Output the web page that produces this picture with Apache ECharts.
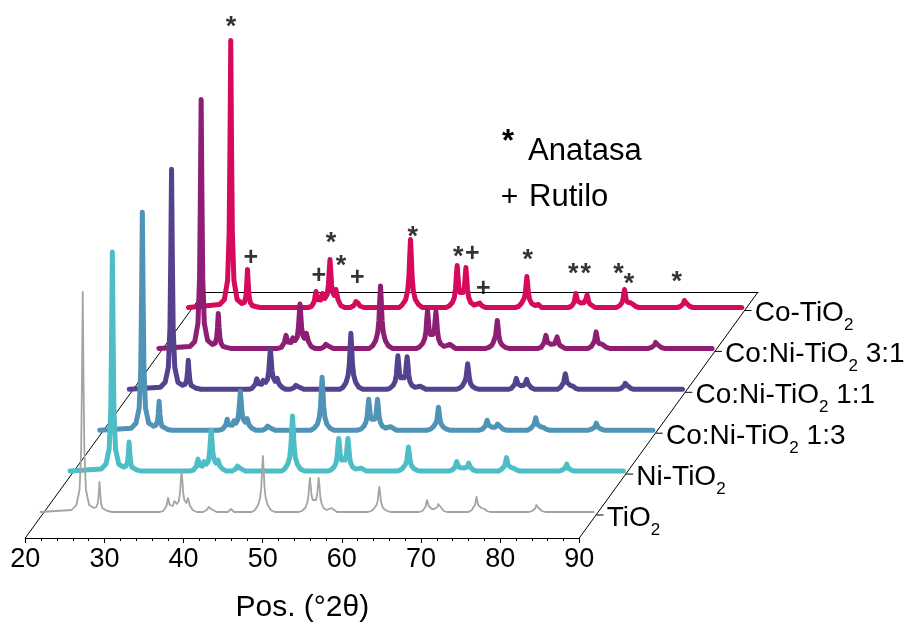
<!DOCTYPE html>
<html><head><meta charset="utf-8">
<script src="https://cdn.jsdelivr.net/npm/echarts@6/dist/echarts.min.js"></script>
<style>html,body{margin:0;padding:0;background:#fff}#c{width:909px;height:625px}</style>
</head><body><div id="c"></div>
<script>
// ---------------- data ----------------
const sampleNames = ['TiO2', 'Ni-TiO2', 'Co:Ni-TiO2 1:3', 'Co:Ni-TiO2 1:1', 'Co:Ni-TiO2 3:1', 'Co-TiO2'];
const sampleLabels = ['TiO{s|2}', 'Ni-TiO{s|2}', 'Co:Ni-TiO{s|2} 1:3', 'Co:Ni-TiO{s|2} 1:1', 'Co:Ni-TiO{s|2} 3:1', 'Co-TiO{s|2}'];
const xMin = 20, xMax = 90, xStep = 10;
const axisTitle = 'Pos. (°2θ)';

const tio2 = [[20,0],[23.9,2],[24.5,7],[24.9,22],[25.1,62],[25.2,132],[25.3,220],[25.4,132],[25.5,62],[25.7,22],[26.1,7],[26.7,4],
[27.0,5],[27.2,9],[27.3,18],[27.4,30],[27.5,18],[27.6,9],[27.75,4],[28.0,2],[28.4,1],[29.0,0],
[35.0,0],[35.4,1],[35.65,3],[35.8,6],[35.9,10],[36.0,14],[36.1,11],[36.2,7],[36.4,5],[36.6,6],[36.7,8],[36.8,11],[36.9,9],[37.1,8],[37.35,11],[37.5,19],[37.6,31],[37.7,41],[37.8,31],[37.9,19],[38.05,12],[38.3,9],[38.4,11],[38.5,14],[38.6,11],[38.75,6],[39.1,2],[39.6,0],
[40.4,0],[40.85,2],[41.0,3],[41.1,5],[41.2,7],[41.3,5],[41.4,3],[41.6,1],[42.1,0],[43.5,0],[43.9,3],[44.3,0],
[46.5,0],[46.9,2],[47.3,7],[47.55,14],[47.7,25],[47.8,42],[47.9,56],[48.0,42],[48.1,25],[48.25,14],[48.5,7],[48.9,2],[49.4,0],
[52.4,0],[52.8,1],[53.2,4],[53.45,9],[53.6,15],[53.7,26],[53.8,34],[53.9,26],[54.0,17],[54.15,12],[54.35,11],[54.55,12],[54.7,17],[54.8,26],[54.9,34],[55.0,26],[55.1,15],[55.25,9],[55.5,4],[55.9,2],[56.2,3],[56.3,4],[56.4,5],[56.5,4],[56.7,2],[57.2,0],
[61.1,0],[61.5,1],[61.8,3],[62.0,5],[62.15,7],[62.3,11],[62.4,19],[62.5,25],[62.6,19],[62.7,11],[62.85,6],[63.1,3],[63.5,1],[63.9,0],
[67.5,0],[67.9,1],[68.15,3],[68.3,5],[68.4,9],[68.5,12],[68.6,9],[68.7,6],[68.85,4],[69.1,3],[69.4,3],[69.65,3],[69.8,5],[69.9,8],[70.0,10],[70.1,8],[70.2,5],[70.35,3],[70.6,1],[71.0,0],
[73.7,0],[74.1,2],[74.35,4],[74.5,7],[74.6,11],[74.7,15],[74.8,11],[74.9,7],[75.05,5],[75.3,4],[75.5,4],[75.7,3],[76.0,1],[76.4,0],
[81.3,0],[81.7,1],[81.95,2],[82.1,4],[82.2,7],[82.3,9],[82.4,7],[82.5,4],[82.65,2],[82.9,1],[83.3,0],[89.4,0]];

const niTio2 = [[20,0],[23.9,2],[24.5,7],[24.9,22],[25.1,61],[25.2,131],[25.3,219],[25.4,131],[25.5,61],[25.7,22],[26.1,7],[26.7,4],
[27.0,5],[27.2,9],[27.3,17],[27.4,29],[27.5,17],[27.6,9],[27.75,4],[28.0,2],[28.4,1],[29.0,0],
[35.0,0],[35.45,1],[35.7,3],[35.85,5],[35.95,9],[36.05,12],[36.15,9],[36.25,6],[36.45,4],[36.6,5],[36.7,7],[36.8,9.5],[36.9,8],[37.1,7],[37.35,10],[37.5,19],[37.6,31],[37.7,41],[37.8,31],[37.9,19],[38.05,12],[38.3,8],[38.45,9],[38.55,11],[38.65,9],[38.8,5],[39.15,2],[39.6,0],
[40.3,0],[40.75,2],[40.9,3],[41.0,5],[41.1,6.5],[41.2,5],[41.3,3],[41.5,1],[42.0,0],
[46.5,0],[46.9,2],[47.3,7],[47.55,14],[47.7,25],[47.8,41],[47.9,55],[48.0,41],[48.1,25],[48.25,14],[48.5,7],[48.9,2],[49.4,0],
[52.3,0],[52.7,1],[53.1,4],[53.35,8],[53.5,15],[53.6,25],[53.7,32.5],[53.8,25],[53.9,16],[54.05,11],[54.27,10],[54.5,11],[54.65,16],[54.75,25],[54.85,32.5],[54.95,25],[55.05,15],[55.2,8],[55.45,4],[55.85,2],[56.2,2.5],[56.3,3],[56.4,3.5],[56.5,3],[56.7,1.5],[57.2,0],
[61.0,0],[61.4,1],[61.75,3],[61.95,5],[62.1,7],[62.25,11],[62.35,18],[62.45,24],[62.55,18],[62.65,11],[62.8,6],[63.05,3],[63.45,1],[63.9,0],
[67.5,0],[67.9,1],[68.15,2.5],[68.3,4],[68.4,7],[68.5,9.5],[68.6,7],[68.7,5],[68.85,3.5],[69.1,3],[69.4,3],[69.65,3],[69.8,4],[69.9,6],[70.0,8],[70.1,6],[70.2,4],[70.35,2.5],[70.6,1],[71.0,0],
[73.75,0],[74.15,2],[74.4,4],[74.55,6],[74.65,10],[74.75,13.5],[74.85,10],[74.95,6],[75.1,4.5],[75.35,3.5],[75.55,3.5],[75.75,2.5],[76.05,1],[76.45,0],
[81.3,0],[81.7,1],[81.95,2],[82.1,3],[82.2,5],[82.3,7],[82.4,5],[82.5,3],[82.65,2],[82.9,1],[83.3,0],[89.4,0]];

const coNi13 = [[20,0],[23.95,2],[24.55,7],[24.95,22],[25.15,61],[25.25,131],[25.35,218],[25.45,131],[25.55,61],[25.75,22],[26.15,7],[26.75,4],
[27.05,5],[27.25,9],[27.35,17],[27.45,29],[27.55,17],[27.65,9],[27.8,4],[28.05,2],[28.45,1],[29.0,0],
[35.0,0],[35.4,1],[35.65,3],[35.8,5],[35.9,8],[36.0,11],[36.1,8],[36.2,5.5],[36.45,4],[36.65,5],[36.75,7],[36.85,9.5],[36.95,8],[37.1,7],[37.3,10],[37.45,18],[37.55,29],[37.65,39],[37.75,29],[37.85,18],[38.0,11],[38.25,8],[38.4,9],[38.5,11.5],[38.6,9],[38.75,5],[39.1,2],[39.6,0],
[40.4,0],[40.8,1.5],[40.95,2.5],[41.05,4],[41.15,5],[41.25,4],[41.35,2.5],[41.55,1],[42.0,0],
[46.5,0],[46.9,2],[47.3,6],[47.55,13],[47.7,24],[47.8,40],[47.9,53],[48.0,40],[48.1,24],[48.25,13],[48.5,6],[48.9,2],[49.4,0],
[52.35,0],[52.75,1],[53.15,4],[53.4,8],[53.55,14],[53.65,23],[53.75,31],[53.85,23],[53.95,15],[54.1,11],[54.3,10],[54.5,11],[54.65,15],[54.75,23],[54.85,31],[54.95,23],[55.05,14],[55.2,8],[55.45,4],[55.85,2],[56.2,3],[56.3,3.5],[56.4,4],[56.5,3.5],[56.7,1.5],[57.2,0],
[61.1,0],[61.5,1],[61.8,3],[62.0,5],[62.15,7],[62.3,10],[62.4,17],[62.5,23],[62.6,17],[62.7,10],[62.85,6],[63.1,3],[63.5,1],[63.9,0],
[67.6,0],[68.0,1],[68.25,2.5],[68.4,4.5],[68.5,7.5],[68.6,10],[68.7,7.5],[68.8,5],[68.95,3.5],[69.2,3],[69.45,3],[69.65,3],[69.8,4],[69.9,6],[70.0,8],[70.1,6],[70.2,4],[70.35,2.5],[70.6,1],[71.0,0],
[73.7,0],[74.1,2],[74.35,3.5],[74.5,6],[74.6,9],[74.7,12.5],[74.8,9],[74.9,6],[75.05,4.5],[75.3,3.5],[75.5,3.5],[75.7,2.5],[76.0,1],[76.4,0],
[81.3,0],[81.7,1],[81.95,2],[82.1,3],[82.2,5],[82.3,7],[82.4,5],[82.5,3],[82.65,2],[82.9,1],[83.3,0],[89.4,0]];

const coNi11 = [[20,0],[23.9,2],[24.5,7],[24.9,22],[25.1,62],[25.2,132],[25.3,220],[25.4,132],[25.5,62],[25.7,22],[26.1,7],[26.7,4],
[27.0,5],[27.2,9],[27.3,17],[27.4,29],[27.5,17],[27.6,9],[27.75,4],[28.0,2],[28.4,1],[29.0,0],
[35.0,0],[35.4,1],[35.65,3],[35.8,5],[35.9,8],[36.0,10.5],[36.1,8],[36.2,5.5],[36.4,4],[36.6,5],[36.7,7],[36.8,9],[36.9,8],[37.1,7],[37.35,10],[37.5,19],[37.6,30],[37.7,40.5],[37.8,30],[37.9,19],[38.05,12],[38.3,8],[38.45,9],[38.55,11],[38.65,9],[38.8,5],[39.15,2],[39.6,0],
[40.2,0],[40.65,1.5],[40.8,2.5],[40.9,4],[41.0,5],[41.1,4],[41.2,2.5],[41.4,1],[41.9,0],
[46.4,0],[46.8,2],[47.2,7],[47.45,14],[47.6,25],[47.7,42],[47.8,56],[47.9,42],[48.0,25],[48.15,14],[48.4,7],[48.8,2],[49.3,0],
[52.3,0],[52.7,1],[53.1,4],[53.35,8],[53.5,15],[53.6,25],[53.7,33.5],[53.8,25],[53.9,16],[54.05,11.5],[54.27,10.5],[54.5,11.5],[54.65,16],[54.75,25],[54.85,32.5],[54.95,25],[55.05,15],[55.2,8],[55.45,4],[55.85,2],[56.2,2.5],[56.3,3],[56.4,3.5],[56.5,3],[56.7,1.5],[57.2,0],
[61.0,0],[61.4,1],[61.75,3],[61.95,5],[62.1,8],[62.25,12],[62.35,19],[62.45,25.5],[62.55,19],[62.65,12],[62.8,6],[63.05,3],[63.45,1],[63.9,0],
[67.55,0],[67.95,1],[68.2,3],[68.35,5],[68.45,8],[68.55,11],[68.65,8],[68.75,5.5],[68.9,4],[69.15,3.5],[69.4,4],[69.5,4],[69.65,5],[69.75,7.5],[69.85,10],[69.95,7.5],[70.05,5],[70.2,3],[70.45,1.5],[70.85,0],
[73.7,0],[74.1,2],[74.35,4],[74.5,7],[74.6,12],[74.7,15.5],[74.8,12],[74.9,7],[75.05,5],[75.3,4],[75.5,4],[75.7,3],[76.0,1],[76.4,0],
[81.3,0],[81.7,1],[81.95,2],[82.1,3.5],[82.2,6],[82.3,8],[82.4,6],[82.5,3.5],[82.65,2],[82.9,1],[83.3,0],[89.4,0]];

const coNi31 = [[20,0],[23.9,2],[24.5,7],[24.9,25],[25.1,70],[25.2,149],[25.3,249],[25.4,149],[25.5,70],[25.7,25],[26.1,8],[26.7,4],
[27.05,5],[27.25,11],[27.35,21],[27.45,35],[27.55,21],[27.65,11],[27.8,5],[28.05,2],[28.45,1],[29.0,0],
[34.9,0],[35.35,1],[35.6,3],[35.75,6],[35.85,10],[35.95,13],[36.05,10],[36.15,6.5],[36.4,5],[36.6,6],[36.7,8],[36.8,10.5],[36.9,9],[37.1,8],[37.35,11],[37.5,21],[37.6,33],[37.7,44.5],[37.8,33],[37.9,21],[38.05,13],[38.25,10],[38.4,12],[38.5,15],[38.6,12],[38.75,7],[39.1,2],[39.6,0],
[40.3,0],[40.7,1.5],[40.85,2.5],[40.95,4],[41.05,5],[41.15,4],[41.25,2.5],[41.45,1],[41.9,0],
[46.4,0],[46.8,2.5],[47.2,8],[47.45,16],[47.6,28],[47.7,47],[47.8,62.5],[47.9,47],[48.0,28],[48.15,16],[48.4,8],[48.8,2.5],[49.3,0],
[52.3,0],[52.7,1.5],[53.1,5],[53.35,10],[53.5,17],[53.6,29],[53.7,38],[53.8,29],[53.9,19],[54.05,14],[54.22,13],[54.4,14],[54.55,18],[54.65,28],[54.75,37],[54.85,28],[54.95,17],[55.1,9],[55.35,4.5],[55.75,2],[56.2,3],[56.3,4],[56.4,4.5],[56.5,4],[56.7,2],[57.2,0],
[61.0,0],[61.4,1],[61.75,3],[61.95,6],[62.1,8],[62.25,13],[62.35,21],[62.45,28],[62.55,21],[62.65,13],[62.8,7],[63.05,3.5],[63.45,1],[63.9,0],
[67.55,0],[67.95,1],[68.2,3],[68.35,6],[68.45,10],[68.55,13],[68.65,10],[68.75,6],[68.9,4.5],[69.2,4],[69.45,4],[69.6,4.5],[69.75,6],[69.85,9],[69.95,11.5],[70.05,9],[70.15,5.5],[70.3,3],[70.55,1.5],[70.95,0],
[73.85,0],[74.25,2],[74.5,4],[74.65,7.5],[74.75,12],[74.85,16.5],[74.95,12],[75.05,7.5],[75.2,5],[75.45,4],[75.65,4],[75.85,3],[76.15,1],[76.55,0],
[81.4,0],[81.8,1],[82.05,2],[82.2,3.5],[82.3,6],[82.4,8],[82.5,6],[82.6,3.5],[82.75,2],[83.0,1],[83.4,0],[89.4,0]];

const coTio2 = [[20,0],[23.9,3],[24.5,8],[24.9,27],[25.1,75],[25.2,160],[25.3,267],[25.4,160],[25.5,75],[25.7,27],[26.1,8],[26.7,4],
[27.0,5],[27.2,11],[27.3,23],[27.4,38],[27.5,23],[27.6,11],[27.75,5],[28.0,2],[28.4,1],[29.0,0],
[35.0,0],[35.4,1],[35.65,4],[35.8,7],[35.9,12],[36.0,16],[36.1,12],[36.2,8],[36.4,6],[36.6,7.5],[36.7,11],[36.8,14],[36.9,12],[37.1,9],[37.4,13],[37.55,23],[37.65,36],[37.75,48],[37.85,36],[37.95,23],[38.1,15],[38.3,12],[38.4,14],[38.5,18],[38.6,14],[38.75,8],[39.1,2],[39.6,0],
[40.3,0],[40.75,2],[40.9,4],[41.0,6],[41.1,8],[41.2,6],[41.3,4],[41.5,1.5],[42.0,0],
[46.45,0],[46.85,3],[47.25,8],[47.5,17],[47.65,31],[47.75,51],[47.85,68],[47.95,51],[48.05,31],[48.2,17],[48.45,8],[48.85,3],[49.35,0],
[52.3,0],[52.7,1.5],[53.1,5],[53.35,10],[53.5,19],[53.6,32],[53.7,42],[53.8,32],[53.9,21],[54.05,15],[54.25,14],[54.45,15],[54.6,19],[54.7,30],[54.8,40],[54.9,30],[55.0,18],[55.15,10],[55.4,5],[55.8,2.5],[56.25,3.5],[56.35,4.5],[56.45,5.5],[56.55,4.5],[56.75,2],[57.25,0],
[61.0,0],[61.4,1],[61.75,4],[61.95,6],[62.1,9],[62.25,14],[62.35,23],[62.45,31],[62.55,23],[62.65,14],[62.8,8],[63.05,4],[63.5,2],[63.9,3],[64.3,0],
[67.6,0],[68.0,1],[68.25,3.5],[68.4,6],[68.5,10.5],[68.6,14],[68.7,10.5],[68.8,6.5],[68.95,5],[69.2,4.5],[69.45,4.5],[69.65,5],[69.8,6.5],[69.9,9.5],[70.0,12.5],[70.1,9.5],[70.2,6],[70.35,3.5],[70.6,1.5],[71.0,0],
[73.7,0],[74.1,2],[74.35,4.5],[74.5,8],[74.6,13.5],[74.7,18],[74.8,13.5],[74.9,8],[75.05,5.5],[75.3,4.5],[75.5,4.5],[75.6,4.5],[75.8,3],[76.1,1],[76.5,0],
[81.3,0],[81.7,1],[81.95,2],[82.1,4],[82.2,7],[82.3,9],[82.4,7],[82.5,4],[82.65,2],[82.9,1],[83.3,0],[89.4,0]];

// phase marks above the Co-TiO2 pattern: [2θ, intensity]
const anatasaMarks = [[25.33,285.8],[37.88,69.8],[39.13,46.5],[48.13,75.8],[53.85,55.8],[62.56,52.5],[68.28,38.5],[69.84,38.5],[73.93,38.5],[75.27,28.5],[81.25,30.8]];
const rutiloMarks = [[27.80,49.2],[36.34,31.5],[41.18,29.8],[55.61,53.5],[56.99,18.2]];
const legendItems = [{symbol:'*', text:'Anatasa'}, {symbol:'+', text:'Rutilo'}];

// ---------------- style / layout ----------------
const FONT = "'Liberation Sans', Arial, Helvetica, sans-serif";
const colors = ['#a4a4a4', '#4dbdc6', '#4f94b6', '#55428f', '#8d1e74', '#d6095c'];
const widths = [1.8, 5, 5, 5, 5, 5];
const L = {x0: 40.5, dx: 29.6, b0: 512, dy: 40.9, w: 558, h: 300};
const traces = [tio2, niTio2, coNi13, coNi11, coNi31, coTio2];
const N = traces.length;

const grids = [], xAxes = [], yAxes = [], series = [];
for (let i = 0; i < N; i++) {
  grids.push({left: L.x0 + L.dx * i, top: L.b0 - L.dy * i - L.h, width: L.w, height: L.h});
  xAxes.push({gridIndex: i, type: 'value', min: xMin, max: xMax, show: false});
  yAxes.push({gridIndex: i, type: 'value', min: 0, max: L.h, show: false});
}
// front axis grid
grids.push({left: 25.3, top: 438, width: 554, height: 100});
xAxes.push({gridIndex: N, type: 'value', min: xMin, max: xMax, interval: xStep,
  name: axisTitle, nameLocation: 'middle', nameGap: 55,
  nameTextStyle: {fontSize: 30, color: '#000', fontFamily: FONT},
  axisLine: {show: true, lineStyle: {color: '#000', width: 1}},
  axisTick: {show: true, length: 5, lineStyle: {color: '#000', width: 1}},
  minorTick: {show: true, splitNumber: 5, length: 3, lineStyle: {color: '#000', width: 1}},
  axisLabel: {fontSize: 27, color: '#000', fontFamily: FONT, margin: 8},
  splitLine: {show: false}, minorSplitLine: {show: false}});
yAxes.push({gridIndex: N, type: 'value', min: 0, max: 1, show: false});
// back edge grid
grids.push({left: 204, top: 282, width: 554, height: 10});
xAxes.push({gridIndex: N + 1, type: 'value', min: xMin, max: xMax,
  axisLine: {show: true, lineStyle: {color: '#000', width: 1}},
  axisTick: {show: false}, axisLabel: {show: false}, splitLine: {show: false}});
yAxes.push({gridIndex: N + 1, type: 'value', min: 0, max: 1, show: false});

for (let i = N - 1; i >= 0; i--) {
  series.push({
    type: 'line', name: sampleNames[i], xAxisIndex: i, yAxisIndex: i,
    data: traces[i], symbol: 'none', clip: false, smooth: false,
    lineStyle: {color: colors[i], width: widths[i], join: 'round', cap: 'round'},
    z: 3,
    endLabel: {show: true, formatter: () => sampleLabels[i], distance: 13, offset: [0, 6],
      color: '#000', fontSize: 28, fontFamily: FONT,
      rich: {s: {fontSize: 17, fontFamily: FONT, color: '#000', lineHeight: 17, padding: [24, 0, 0, 0]}}}
  });
}
series.push({type: 'scatter', name: 'Anatasa', xAxisIndex: N - 1, yAxisIndex: N - 1, data: anatasaMarks,
  symbolSize: 1, itemStyle: {color: 'rgba(0,0,0,0)'}, silent: true, z: 10,
  label: {show: true, position: 'inside', formatter: '*', fontSize: 27, fontWeight: 'bold', color: '#000', fontFamily: FONT, offset: [0, 6]}});
series.push({type: 'scatter', name: 'Rutilo', xAxisIndex: N - 1, yAxisIndex: N - 1, data: rutiloMarks,
  symbolSize: 1, itemStyle: {color: 'rgba(0,0,0,0)'}, silent: true, z: 10,
  label: {show: true, position: 'inside', formatter: '+', fontSize: 25, fontWeight: 'bold', color: '#000', fontFamily: FONT, offset: [0, 0]}});

const chart = echarts.init(document.getElementById('c'), null, {renderer: 'canvas'});
chart.setOption({animation: false, backgroundColor: '#fff', grid: grids, xAxis: xAxes, yAxis: yAxes, series: series});

// frame: slanted edges + depth ticks, legend text
const fL = chart.convertToPixel({xAxisIndex: N, yAxisIndex: N}, [xMin, 0]);
const fR = chart.convertToPixel({xAxisIndex: N, yAxisIndex: N}, [xMax, 0]);
const bL = chart.convertToPixel({xAxisIndex: N + 1, yAxisIndex: N + 1}, [xMin, 0]);
const bR = chart.convertToPixel({xAxisIndex: N + 1, yAxisIndex: N + 1}, [xMax, 0]);
const ls = {stroke: '#000', lineWidth: 1};
const g = [
  {type: 'line', z: 1, shape: {x1: fL[0], y1: fL[1], x2: bL[0], y2: bL[1]}, style: ls},
  {type: 'line', z: 1, shape: {x1: fR[0], y1: fR[1], x2: bR[0], y2: bR[1]}, style: ls}
];
for (let i = 0; i < N; i++) {
  const p = chart.convertToPixel({xAxisIndex: i, yAxisIndex: i}, [xMax, 0]);
  g.push({type: 'line', z: 1, shape: {x1: p[0] - 2, y1: p[1] + 3, x2: p[0] + 5, y2: p[1] + 3}, style: ls});
}
g.push({type: 'text', x: 508, y: 142, style: {text: legendItems[0].symbol, font: 'bold 31px ' + FONT, fill: '#000', align: 'center', verticalAlign: 'middle'}});
g.push({type: 'text', x: 528, y: 151.6, style: {text: legendItems[0].text, font: '31px ' + FONT, fill: '#000', align: 'left', verticalAlign: 'middle'}});
g.push({type: 'text', x: 509.5, y: 198, style: {text: legendItems[1].symbol, font: '30px ' + FONT, fill: '#000', align: 'center', verticalAlign: 'middle'}});
g.push({type: 'text', x: 529, y: 197, style: {text: legendItems[1].text, font: '31px ' + FONT, fill: '#000', align: 'left', verticalAlign: 'middle'}});
chart.setOption({graphic: g});
</script>
</body></html>
